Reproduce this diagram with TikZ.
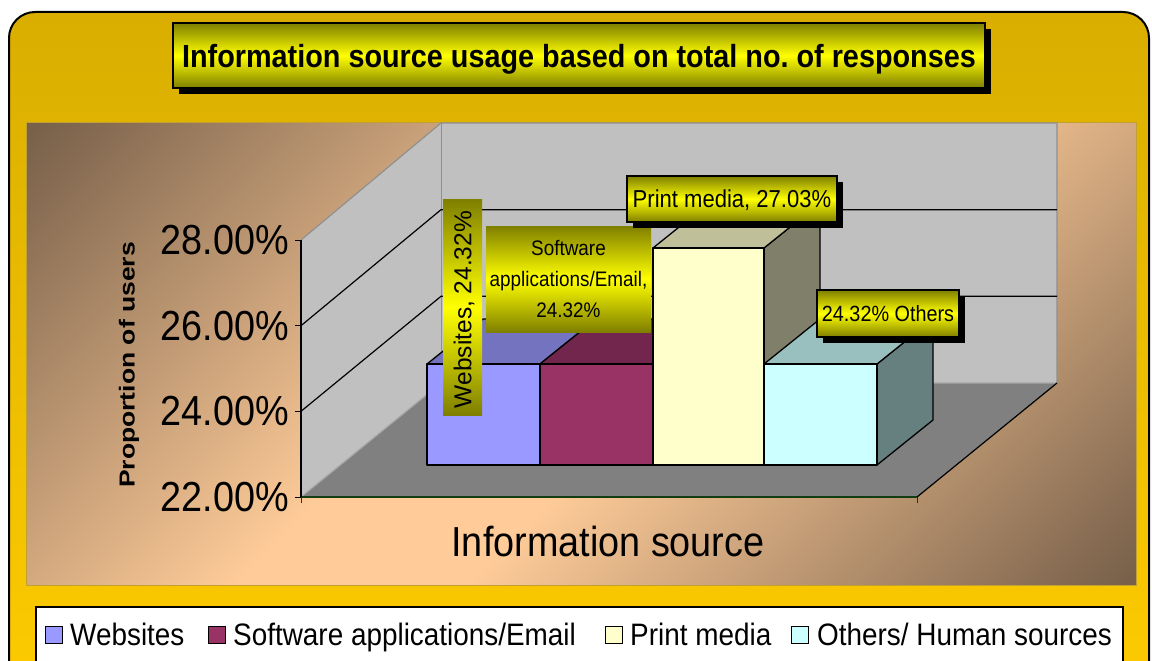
\documentclass[tikz,border=0pt]{standalone}
\usepackage{graphicx}
\usepackage{fontspec}
\setmainfont{Liberation Sans}[FakeStretch=0.9]
\newfontfamily\fullsans{Liberation Sans}
\usetikzlibrary{shadows}

\definecolor{frametop}{HTML}{D9AE00}
\definecolor{framebot}{HTML}{FFCC00}
\definecolor{plotdark}{HTML}{78604A}
\definecolor{plotlight}{HTML}{FFCC99}
\definecolor{plotedge}{HTML}{C0A030}
\definecolor{olivetone}{HTML}{7F7F00}
\definecolor{brightyellow}{HTML}{FFFF00}
\definecolor{wallgray}{HTML}{C0C0C0}
\definecolor{wallline}{HTML}{909090}
\definecolor{floorgray}{HTML}{808080}
\definecolor{flooredge}{HTML}{A8A8A8}
\definecolor{axisgreen}{HTML}{123C12}
\definecolor{webfront}{HTML}{9999FF}
\definecolor{webtop}{HTML}{7373BF}
\definecolor{webside}{HTML}{5C5C99}
\definecolor{softfront}{HTML}{993366}
\definecolor{softtop}{HTML}{73264D}
\definecolor{softside}{HTML}{5C1F3D}
\definecolor{printfront}{HTML}{FFFFCC}
\definecolor{printtop}{HTML}{BFBF99}
\definecolor{printside}{HTML}{80806A}
\definecolor{otherfront}{HTML}{CCFFFF}
\definecolor{othertop}{HTML}{99BFBF}
\definecolor{otherside}{HTML}{668080}

% diagonal glow of the plot area: dark corners, light band along the anti-diagonal
\pgfdeclareverticalshading{plotglow}{100bp}{%
  color(0bp)=(plotdark); color(15bp)=(plotdark);
  color(45bp)=(plotlight); color(55bp)=(plotlight);
  color(85bp)=(plotdark); color(100bp)=(plotdark)}

% a bar standing on the floor line y=465, depth offset (56,-45)
% #1 left x, #2 right x, #3 top y, #4 front, #5 top, #6 side colour
\newcommand\cuboid[6]{%
  \filldraw[bar, fill=#6] (#2,#3) -- ++(56,-45) -- (#2+56,420) -- (#2,465) -- cycle;
  \filldraw[bar, fill=#5] (#1,#3) -- ++(56,-45) -- (#2+56,#3-45) -- (#2,#3) -- cycle;
  \filldraw[bar, fill=#4] (#1,#3) rectangle (#2,465);
}

\begin{document}
\begin{tikzpicture}[x=1pt,y=-1pt,
  bar/.style={draw=black, line width=1.3pt, line join=round},
  tag/.style={inner sep=0pt, top color=olivetone, bottom color=olivetone, middle color=brightyellow},
  tagframed/.style={tag, draw=black, line width=1.3pt,
    general shadow={fill=black, shadow xshift=6pt, shadow yshift=-6pt}},
  tickmark/.style={black, line width=1pt},
  ylab/.style={anchor=east, inner sep=0pt, font=\fontsize{42}{48}\selectfont},
  keybox/.style={draw=black, line width=1.3pt, minimum size=17pt, inner sep=0pt, anchor=north west},
  keytext/.style={anchor=base west, inner sep=0pt, font=\fontsize{31}{36}\selectfont},
]
\clip (0,0) rectangle (1152,661);

% outer frame
\shadedraw[top color=frametop, bottom color=framebot, draw=black, line width=2pt,
  rounded corners=26pt] (9,12) rectangle (1149,720);

% title
\node[tagframed, line width=1.8pt, minimum width=812pt, minimum height=65pt,
  text height=23pt, text depth=0pt,
  font=\bfseries\fontsize{32}{38}\selectfont] (title) at (579,55.5)
  {Information source usage based on total no.\ of responses};

% plot area
\shade[shading=plotglow, shading angle=45] (26,122) rectangle (1136,585);
\draw[plotedge, line width=0.8pt] (26,122) rectangle (1136,585);

% corners of the walls and floor
\coordinate (f28) at (301,240);
\coordinate (f22) at (301,497);
\coordinate (b28) at (441,123);
\coordinate (b22) at (441,383);
\coordinate (br28) at (1057,123);
\coordinate (br22) at (1057,383);
\coordinate (fr22) at (917,497);

% walls
\fill[wallgray] (f28) -- (b28) -- (b22) -- (f22) -- cycle;
\fill[wallgray] (b28) rectangle (br22);
\draw[wallline, line width=1.2pt] (f28) -- (b28) -- (br28) -- (br22);
\draw[wallline, line width=1pt] (b28) -- (b22);

% floor
\fill[floorgray] (f22) -- (b22) -- (br22) -- (fr22) -- cycle;
\draw[flooredge, line width=1.2pt] (f22) -- (b22) -- (br22);
\draw[black, line width=1.2pt] (fr22) -- (br22);
\draw[axisgreen, line width=1.6pt] (f22) -- (fr22);

% gridlines
\draw[black, line width=1.2pt] (301,325.7) -- (441,209.7) -- (1057,209.7);
\draw[black, line width=1.2pt] (301,411.3) -- (441,296.3) -- (1057,296.3);

% value axis and ticks
\draw[black, line width=1.4pt] (f28) -- (f22);
\foreach \t in {240,325.7,411.3,497} \draw[tickmark] (295,\t) -- (301,\t);
\draw[axisgreen, line width=1pt] (f22) -- ++(0,6);
\draw[axisgreen, line width=1pt] (fr22) -- ++(0,6);

% tick labels
\node[ylab] (y28) at (289,240) {28.00\%};
\node[ylab] (y26) at (289,325.7) {26.00\%};
\node[ylab] (y24) at (289,411.3) {24.00\%};
\node[ylab] (y22) at (289,497) {22.00\%};

% axis titles
\node[rotate=90, inner sep=0pt, font=\fullsans\bfseries\fontsize{26.5}{30}\selectfont]
  (ytitle) at (129,365) {\scalebox{1}[0.82]{Proportion of users}};
\node[inner sep=0pt, font=\fontsize{42}{48}\selectfont] (xtitle) at (608,541) {Information source};

% bars
\cuboid{427}{540}{364}{webfront}{webtop}{webside}
\cuboid{540}{653}{364}{softfront}{softtop}{softside}
\cuboid{653}{764}{248}{printfront}{printtop}{printside}
\cuboid{764}{877}{364}{otherfront}{othertop}{otherside}

% data labels
\node[tag, minimum width=39pt, minimum height=216pt] (weblbl) at (462.5,307) {};
\node[rotate=90, inner sep=0pt, text height=17.5pt, text depth=0pt,
  font=\fullsans\fontsize{24.5}{28}\selectfont] (webtxt) at (462.5,309.5) {Websites, 24.32\%};
\node[tag, minimum width=165pt, minimum height=106pt, align=center,
  font=\fontsize{21}{31}\selectfont] (softlbl) at (568.5,279)
  {Software\\applications/Email,\\24.32\%};
\node[tagframed, minimum width=210pt, minimum height=46pt, text height=17.5pt, text depth=0pt,
  font=\fontsize{24.5}{28}\selectfont] (printlbl) at (732,199) {Print media, 27.03\%};
\node[tagframed, minimum width=142pt, minimum height=47pt, text height=16pt, text depth=0pt,
  font=\fontsize{22}{26}\selectfont] (otherlbl) at (888,313.5) {24.32\% Others};

% legend
\node[draw=black, line width=1.5pt, fill=white, minimum width=1087pt, minimum height=74pt,
  anchor=north west, inner sep=0pt] (legend) at (35,606) {};
\node[keybox, fill=webfront] (k1) at (45,626) {};
\node[keytext] (t1) at (70,645) {Websites};
\node[keybox, fill=softfront] (k2) at (208,626) {};
\node[keytext] (t2) at (233,645) {Software applications/Email};
\node[keybox, fill=printfront] (k3) at (605,626) {};
\node[keytext] (t3) at (630,645) {Print media};
\node[keybox, fill=otherfront] (k4) at (791,626) {};
\node[keytext] (t4) at (817,645) {Others/ Human sources};
\end{tikzpicture}
\end{document}
